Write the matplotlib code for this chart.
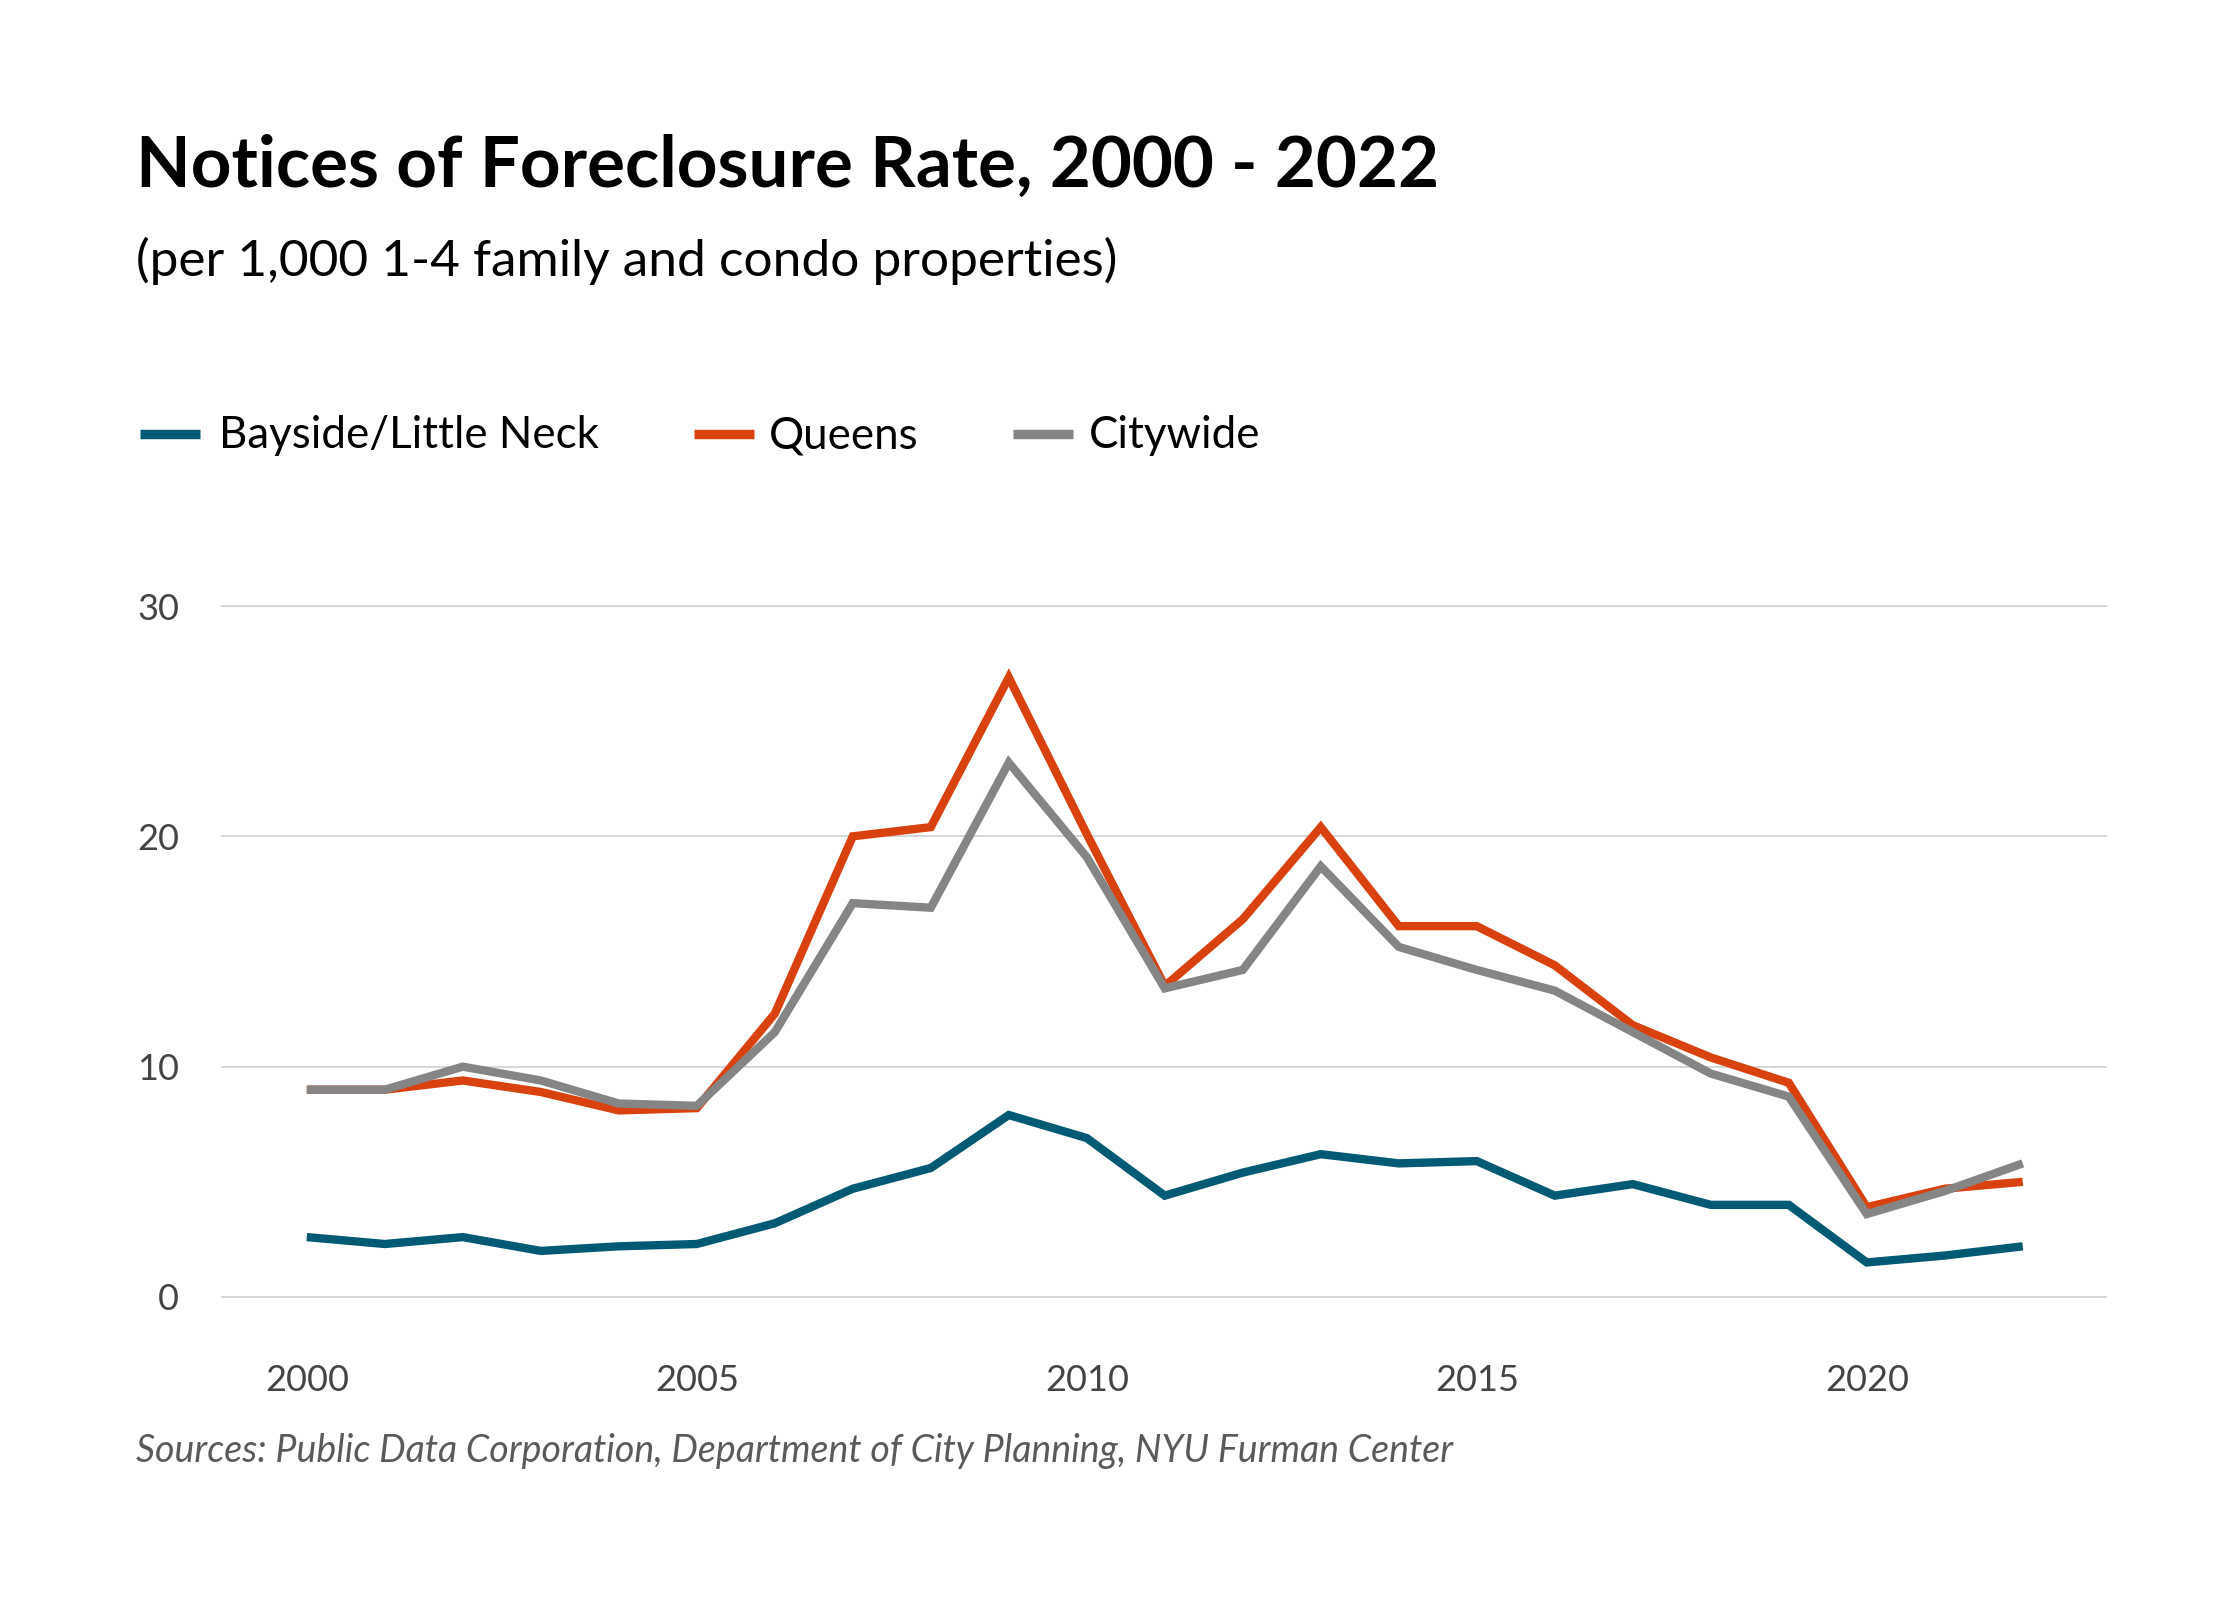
import matplotlib
matplotlib.use("Agg")
import matplotlib.pyplot as plt
from matplotlib.lines import Line2D

# Data: notices of foreclosure per 1,000 1-4 family and condo properties
years = list(range(2000, 2023))
bayside = [2.6, 2.3, 2.6, 2.0, 2.2, 2.3, 3.2, 4.7, 5.6, 7.9, 6.9, 4.4,
           5.4, 6.2, 5.8, 5.9, 4.4, 4.9, 4.0, 4.0, 1.5, 1.8, 2.2]
queens = [9.0, 9.0, 9.4, 8.9, 8.1, 8.2, 12.3, 20.0, 20.4, 26.9, 20.1, 13.5,
          16.4, 20.4, 16.1, 16.1, 14.4, 11.8, 10.4, 9.3, 3.9, 4.7, 5.0]
citywide = [9.0, 9.0, 10.0, 9.4, 8.4, 8.3, 11.5, 17.1, 16.9, 23.2, 19.1, 13.4,
            14.2, 18.7, 15.2, 14.2, 13.3, 11.5, 9.7, 8.7, 3.6, 4.6, 5.8]

series_names = ["Bayside/Little Neck", "Queens", "Citywide"]
series_colors = ["#005a73", "#d9410e", "#858585"]
yticks = [0, 10, 20, 30]
xticks = [2000, 2005, 2010, 2015, 2020]

FONT = "Lato"
W, H = 2240, 1600

fig = plt.figure(figsize=(W / 200, H / 200), dpi=200)
fig.patch.set_facecolor("white")

# plot area: gridlines span x 221..2107 px, y = 0 at 1297 px, 30 at 606 px
ax = fig.add_axes([221 / W, 1 - 1308.5 / H, 1886 / W, 714 / H])
ax.set_xlim(1998.9, 2023.08)
ax.set_ylim(-0.5, 30.5)

for vals, color in zip([bayside, queens, citywide], series_colors):
    ax.plot(years, vals, color=color, lw=3.0, solid_joinstyle="miter",
            solid_capstyle="butt", zorder=3)

for y in yticks:
    ax.axhline(y, color="#cfcfcf", lw=0.6, zorder=1)

for s in ax.spines.values():
    s.set_visible(False)
ax.set_yticks(yticks)
ax.set_xticks(xticks)
ax.tick_params(length=0, labelsize=13, labelcolor="#444444")
ax.tick_params(axis="y", pad=15)
ax.tick_params(axis="x", pad=20)
for lab in ax.get_xticklabels() + ax.get_yticklabels():
    lab.set_fontfamily(FONT)

# title block
fig.text(136 / W, 1 - 187 / H, "Notices of Foreclosure Rate, 2000 - 2022",
         fontsize=25.5, fontweight="bold", family=FONT, color="black",
         va="baseline", ha="left")
fig.text(136 / W, 1 - 276 / H, "(per 1,000 1-4 family and condo properties)",
         fontsize=18.5, family=FONT, color="black", va="baseline", ha="left")

# legend, drawn by hand
leg_handles = [(140, 219), (694, 769), (1013, 1089)]
for (hx, tx), name, color in zip(leg_handles, series_names, series_colors):
    fig.add_artist(Line2D([hx / W, (hx + 60) / W], [1 - 434 / H] * 2,
                          color=color, lw=3.4, solid_capstyle="butt"))
    fig.text(tx / W, 1 - 436 / H, name, fontsize=15.8, family=FONT,
             color="black", va="center", ha="left")

fig.text(136 / W, 1 - 1451 / H,
         "Sources: Public Data Corporation, Department of City Planning, NYU Furman Center",
         fontsize=13.5, family=FONT, style="italic", fontweight="normal",
         color="#5a5a5a", va="center", ha="left")

fig.savefig("out.png", dpi=200, facecolor="white")
